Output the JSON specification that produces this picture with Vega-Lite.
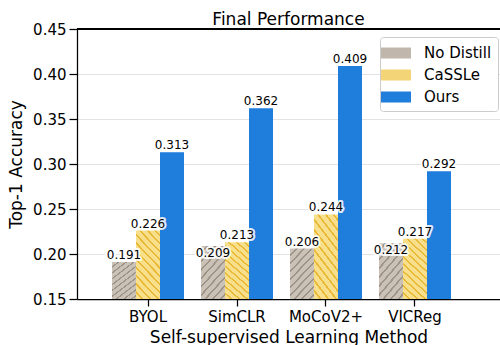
{
  "$schema": "https://vega.github.io/schema/vega-lite/v6.json",
  "autosize": "none",
  "padding": {"left": 77, "top": 29, "right": 0, "bottom": 46},
  "width": 423,
  "height": 270,
  "title": {"text": "Final Performance", "fontSize": 17, "fontWeight": "normal", "font": "DejaVu Sans", "color": "black", "offset": -7, "anchor": "middle"},
  "config": {
    "view": {"stroke": null},
    "font": "DejaVu Sans",
    "axis": {"labelFont": "DejaVu Sans", "titleFont": "DejaVu Sans", "labelColor": "black", "titleColor": "black", "domainColor": "black", "tickColor": "black", "domainWidth": 1.25, "tickWidth": 1.25, "titleFontWeight": "normal"},
    "legend": {"labelFont": "DejaVu Sans", "labelColor": "black"}
  },
  "data": {"values": [
    {"method": "BYOL", "series": "No Distill", "value": 0.191},
    {"method": "BYOL", "series": "CaSSLe", "value": 0.226},
    {"method": "BYOL", "series": "Ours", "value": 0.313},
    {"method": "SimCLR", "series": "No Distill", "value": 0.209},
    {"method": "SimCLR", "series": "CaSSLe", "value": 0.213},
    {"method": "SimCLR", "series": "Ours", "value": 0.362},
    {"method": "MoCoV2+", "series": "No Distill", "value": 0.206},
    {"method": "MoCoV2+", "series": "CaSSLe", "value": 0.244},
    {"method": "MoCoV2+", "series": "Ours", "value": 0.409},
    {"method": "VICReg", "series": "No Distill", "value": 0.212},
    {"method": "VICReg", "series": "CaSSLe", "value": 0.217},
    {"method": "VICReg", "series": "Ours", "value": 0.292}
  ]},
  "layer": [
    {
      "mark": {"type": "bar", "strokeWidth": 0, "opacity": 0},
      "encoding": {
        "x": {"field": "method", "type": "nominal", "sort": ["BYOL", "SimCLR", "MoCoV2+", "VICReg"],
          "scale": {"paddingInner": 0.191, "paddingOuter": 0.472, "align": 0.4167},
          "axis": {"title": "Self-supervised Learning Method", "labelAngle": 0, "labelFontSize": 15, "titleFontSize": 17, "tickSize": 7, "labelPadding": 3, "titlePadding": 5, "grid": false}},
        "xOffset": {"field": "series", "type": "nominal", "sort": ["No Distill", "CaSSLe", "Ours"], "scale": {"paddingInner": 0, "paddingOuter": 0}},
        "y": {"field": "value", "type": "quantitative", "scale": {"domain": [0.15, 0.45], "zero": false, "nice": false},
          "axis": {"title": "Top-1 Accuracy", "values": [0.15, 0.2, 0.25, 0.3, 0.35, 0.4, 0.45], "format": ".2f", "labelFontSize": 15, "titleFontSize": 17, "tickSize": 8, "labelPadding": 3, "titlePadding": 7, "grid": true, "gridColor": "#e3e3e3", "gridWidth": 1}},
        "y2": {"datum": 0.15},
        "fill": {"field": "series", "type": "nominal",
          "scale": {"domain": ["No Distill", "CaSSLe", "Ours"], "range": ["#c0b6ab", "#f3d476", "#1f7ddc"]},
          "legend": {"title": null, "orient": "none", "legendX": 303, "legendY": 8, "symbolType": "M-1.5,-0.55H1.5V0.55H-1.5Z", "symbolSize": 400, "symbolStrokeWidth": 0, "symbolOpacity": 1, "labelFontSize": 15, "labelOffset": 18, "padding": 6, "strokeColor": "#cccccc", "fillColor": "#ffffff", "cornerRadius": 3, "rowPadding": 4,
            "encode": {"symbols": {"update": {"fill": {"value": {"expr": "datum.value === 'No Distill' ? {gradient:'linear',x1:0,y1:0,x2:1.2,y2:0.44,stops:[{offset:0,color:'#cbc2b7'},{offset:0.14,color:'#cbc2b7'},{offset:0.146,color:'#9e9386'},{offset:0.194,color:'#9e9386'},{offset:0.2,color:'#cbc2b7'},{offset:0.34,color:'#cbc2b7'},{offset:0.346,color:'#9e9386'},{offset:0.394,color:'#9e9386'},{offset:0.4,color:'#cbc2b7'},{offset:0.54,color:'#cbc2b7'},{offset:0.546,color:'#9e9386'},{offset:0.594,color:'#9e9386'},{offset:0.6,color:'#cbc2b7'},{offset:0.74,color:'#cbc2b7'},{offset:0.746,color:'#9e9386'},{offset:0.794,color:'#9e9386'},{offset:0.8,color:'#cbc2b7'},{offset:0.94,color:'#cbc2b7'},{offset:0.946,color:'#9e9386'},{offset:0.994,color:'#9e9386'},{offset:1,color:'#cbc2b7'}]} : datum.value === 'CaSSLe' ? {gradient:'linear',x1:0,y1:1,x2:1.2,y2:0.56,stops:[{offset:0,color:'#f8df8c'},{offset:0.14,color:'#f8df8c'},{offset:0.146,color:'#e9b935'},{offset:0.194,color:'#e9b935'},{offset:0.2,color:'#f8df8c'},{offset:0.34,color:'#f8df8c'},{offset:0.346,color:'#e9b935'},{offset:0.394,color:'#e9b935'},{offset:0.4,color:'#f8df8c'},{offset:0.54,color:'#f8df8c'},{offset:0.546,color:'#e9b935'},{offset:0.594,color:'#e9b935'},{offset:0.6,color:'#f8df8c'},{offset:0.74,color:'#f8df8c'},{offset:0.746,color:'#e9b935'},{offset:0.794,color:'#e9b935'},{offset:0.8,color:'#f8df8c'},{offset:0.94,color:'#f8df8c'},{offset:0.946,color:'#e9b935'},{offset:0.994,color:'#e9b935'},{offset:1,color:'#f8df8c'}]} : '#1f7ddc'"}}}}}}
        }
      }
    },
    {
      "mark": {"type": "bar", "strokeWidth": 0},
      "encoding": {
        "x": {"field": "method", "type": "nominal", "sort": ["BYOL", "SimCLR", "MoCoV2+", "VICReg"]},
        "xOffset": {"field": "series", "type": "nominal", "sort": ["No Distill", "CaSSLe", "Ours"]},
        "y": {"field": "value", "type": "quantitative"},
        "y2": {"datum": 0.15},
        "fill": {
          "condition": [
            {"test": "datum.series === 'No Distill'", "value": {"gradient": "linear", "x1": 0, "y1": 0, "x2": 0.7, "y2": 1.4, "stops": [
              {"offset": 0, "color": "#cbc2b7"}, {"offset": 0.0636, "color": "#cbc2b7"}, {"offset": 0.0664, "color": "#9e9386"}, {"offset": 0.0882, "color": "#9e9386"},
              {"offset": 0.0909, "color": "#cbc2b7"}, {"offset": 0.1545, "color": "#cbc2b7"}, {"offset": 0.1573, "color": "#9e9386"}, {"offset": 0.1791, "color": "#9e9386"},
              {"offset": 0.1818, "color": "#cbc2b7"}, {"offset": 0.2455, "color": "#cbc2b7"}, {"offset": 0.2482, "color": "#9e9386"}, {"offset": 0.27, "color": "#9e9386"},
              {"offset": 0.2727, "color": "#cbc2b7"}, {"offset": 0.3364, "color": "#cbc2b7"}, {"offset": 0.3391, "color": "#9e9386"}, {"offset": 0.3609, "color": "#9e9386"},
              {"offset": 0.3636, "color": "#cbc2b7"}, {"offset": 0.4273, "color": "#cbc2b7"}, {"offset": 0.43, "color": "#9e9386"}, {"offset": 0.4518, "color": "#9e9386"},
              {"offset": 0.4545, "color": "#cbc2b7"}, {"offset": 0.5182, "color": "#cbc2b7"}, {"offset": 0.5209, "color": "#9e9386"}, {"offset": 0.5427, "color": "#9e9386"},
              {"offset": 0.5455, "color": "#cbc2b7"}, {"offset": 0.6091, "color": "#cbc2b7"}, {"offset": 0.6118, "color": "#9e9386"}, {"offset": 0.6336, "color": "#9e9386"},
              {"offset": 0.6364, "color": "#cbc2b7"}, {"offset": 0.7, "color": "#cbc2b7"}, {"offset": 0.7027, "color": "#9e9386"}, {"offset": 0.7245, "color": "#9e9386"},
              {"offset": 0.7273, "color": "#cbc2b7"}, {"offset": 0.7909, "color": "#cbc2b7"}, {"offset": 0.7936, "color": "#9e9386"}, {"offset": 0.8155, "color": "#9e9386"},
              {"offset": 0.8182, "color": "#cbc2b7"}, {"offset": 0.8818, "color": "#cbc2b7"}, {"offset": 0.8845, "color": "#9e9386"}, {"offset": 0.9064, "color": "#9e9386"},
              {"offset": 0.9091, "color": "#cbc2b7"}, {"offset": 0.9727, "color": "#cbc2b7"}, {"offset": 0.9755, "color": "#9e9386"}, {"offset": 0.9973, "color": "#9e9386"},
              {"offset": 1, "color": "#cbc2b7"}
            ]}},
            {"test": "datum.series === 'CaSSLe'", "value": {"gradient": "linear", "x1": 0, "y1": 1, "x2": 0.545, "y2": -0.476, "stops": [
              {"offset": 0, "color": "#f8df8c"}, {"offset": 0.05, "color": "#f8df8c"}, {"offset": 0.0521, "color": "#e9b935"}, {"offset": 0.0693, "color": "#e9b935"},
              {"offset": 0.0714, "color": "#f8df8c"}, {"offset": 0.1214, "color": "#f8df8c"}, {"offset": 0.1235, "color": "#e9b935"}, {"offset": 0.1407, "color": "#e9b935"},
              {"offset": 0.1429, "color": "#f8df8c"}, {"offset": 0.1929, "color": "#f8df8c"}, {"offset": 0.195, "color": "#e9b935"}, {"offset": 0.2122, "color": "#e9b935"},
              {"offset": 0.2143, "color": "#f8df8c"}, {"offset": 0.2643, "color": "#f8df8c"}, {"offset": 0.2664, "color": "#e9b935"}, {"offset": 0.2836, "color": "#e9b935"},
              {"offset": 0.2857, "color": "#f8df8c"}, {"offset": 0.3357, "color": "#f8df8c"}, {"offset": 0.3378, "color": "#e9b935"}, {"offset": 0.355, "color": "#e9b935"},
              {"offset": 0.3571, "color": "#f8df8c"}, {"offset": 0.4071, "color": "#f8df8c"}, {"offset": 0.4092, "color": "#e9b935"}, {"offset": 0.4264, "color": "#e9b935"},
              {"offset": 0.4286, "color": "#f8df8c"}, {"offset": 0.4786, "color": "#f8df8c"}, {"offset": 0.4807, "color": "#e9b935"}, {"offset": 0.4979, "color": "#e9b935"},
              {"offset": 0.5, "color": "#f8df8c"}, {"offset": 0.55, "color": "#f8df8c"}, {"offset": 0.5521, "color": "#e9b935"}, {"offset": 0.5693, "color": "#e9b935"},
              {"offset": 0.5714, "color": "#f8df8c"}, {"offset": 0.6214, "color": "#f8df8c"}, {"offset": 0.6235, "color": "#e9b935"}, {"offset": 0.6407, "color": "#e9b935"},
              {"offset": 0.6429, "color": "#f8df8c"}, {"offset": 0.6929, "color": "#f8df8c"}, {"offset": 0.695, "color": "#e9b935"}, {"offset": 0.7122, "color": "#e9b935"},
              {"offset": 0.7143, "color": "#f8df8c"}, {"offset": 0.7643, "color": "#f8df8c"}, {"offset": 0.7664, "color": "#e9b935"}, {"offset": 0.7836, "color": "#e9b935"},
              {"offset": 0.7857, "color": "#f8df8c"}, {"offset": 0.8357, "color": "#f8df8c"}, {"offset": 0.8378, "color": "#e9b935"}, {"offset": 0.855, "color": "#e9b935"},
              {"offset": 0.8571, "color": "#f8df8c"}, {"offset": 0.9071, "color": "#f8df8c"}, {"offset": 0.9092, "color": "#e9b935"}, {"offset": 0.9264, "color": "#e9b935"},
              {"offset": 0.9286, "color": "#f8df8c"}, {"offset": 0.9786, "color": "#f8df8c"}, {"offset": 0.9807, "color": "#e9b935"}, {"offset": 0.9979, "color": "#e9b935"},
              {"offset": 1, "color": "#f8df8c"}
            ]}}
          ],
          "value": "#1f7ddc"
        }
      }
    },
    {
      "transform": [{"filter": "!(datum.series === 'No Distill' && (datum.method === 'SimCLR' || datum.method === 'VICReg'))"}],
      "layer": [
        {"mark": {"type": "text", "baseline": "middle", "dy": -7, "fontSize": 12, "stroke": "white", "strokeWidth": 4, "strokeOpacity": 0.85, "strokeJoin": "round", "fill": "white"}},
        {"mark": {"type": "text", "baseline": "middle", "dy": -7, "fontSize": 12, "color": "black"}}
      ],
      "encoding": {
        "x": {"field": "method", "type": "nominal", "sort": ["BYOL", "SimCLR", "MoCoV2+", "VICReg"]},
        "xOffset": {"field": "series", "type": "nominal", "sort": ["No Distill", "CaSSLe", "Ours"]},
        "y": {"field": "value", "type": "quantitative"},
        "text": {"field": "value", "type": "quantitative", "format": ".3f"}
      }
    },
    {
      "transform": [{"filter": "datum.series === 'No Distill' && (datum.method === 'SimCLR' || datum.method === 'VICReg')"}],
      "layer": [
        {"mark": {"type": "text", "baseline": "middle", "dy": 7, "fontSize": 12, "stroke": "white", "strokeWidth": 4, "strokeOpacity": 0.85, "strokeJoin": "round", "fill": "white"}},
        {"mark": {"type": "text", "baseline": "middle", "dy": 7, "fontSize": 12, "color": "black"}}
      ],
      "encoding": {
        "x": {"field": "method", "type": "nominal", "sort": ["BYOL", "SimCLR", "MoCoV2+", "VICReg"]},
        "xOffset": {"field": "series", "type": "nominal", "sort": ["No Distill", "CaSSLe", "Ours"]},
        "y": {"field": "value", "type": "quantitative"},
        "text": {"field": "value", "type": "quantitative", "format": ".3f"}
      }
    },
    {
      "mark": {"type": "rule", "color": "black", "strokeWidth": 1.25},
      "encoding": {"y": {"datum": 0.45}}
    }
  ]
}
